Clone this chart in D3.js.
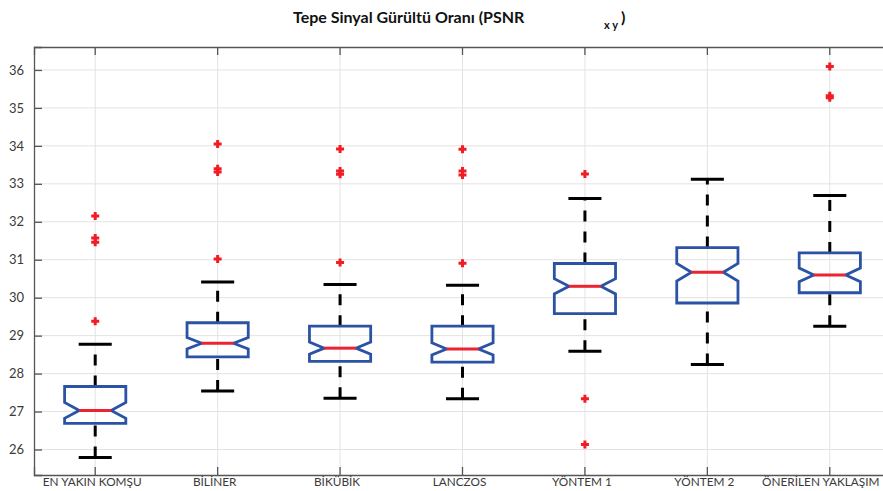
<!DOCTYPE html>
<html><head><meta charset="utf-8">
<script src="https://cdn.jsdelivr.net/npm/d3@7"></script>
<style>body{margin:0;background:#fff}svg{display:block}</style>
</head><body>
<script>
const categories = ["EN YAKIN KOMŞU","BİLİNER","BİKÜBİK","LANCZOS","YÖNTEM 1","YÖNTEM 2","ÖNERİLEN YAKLAŞIM"];
const lowerWhisker = [25.79, 27.54, 27.35, 27.34, 28.59, 28.24, 29.25];
const q1           = [26.69, 28.44, 28.32, 28.30, 29.58, 29.86, 30.13];
const median       = [27.03, 28.80, 28.67, 28.65, 30.30, 30.67, 30.60];
const q3           = [27.66, 29.34, 29.25, 29.25, 30.90, 31.32, 31.18];
const upperWhisker = [28.77, 30.41, 30.35, 30.33, 32.61, 33.12, 32.69];
const notchLo      = [26.82, 28.65, 28.51, 28.49, 30.10, 30.44, 30.42];
const notchHi      = [27.24, 28.95, 28.83, 28.81, 30.50, 30.90, 30.78];
const outliers = [
  [32.15, 31.57, 31.46, 29.38],
  [34.05, 33.40, 33.31, 31.02],
  [33.92, 33.34, 33.25, 30.93],
  [33.91, 33.34, 33.23, 30.91],
  [33.26, 27.34, 26.13],
  [],
  [36.09, 35.32, 35.27]
];
const yTicks = [26, 27, 28, 29, 30, 31, 32, 33, 34, 35, 36];
const titleMain = "Tepe Sinyal Gürültü Oranı (PSNR";
const titleSub = "x y";

(function () {
const W = 883, H = 491;
const mL = 34, mR = 891, mT = 47, mB = 475;
const FONT = "Lato, 'Open Sans', sans-serif";
const svg = d3.select("body").append("svg").attr("width", W).attr("height", H);

const x = d3.scaleBand().domain(categories).range([mL, mR]).padding(0);
const y = d3.scaleLinear().domain([25.328, 36.605]).range([mB, mT]);
const step = x.bandwidth();
const cx = c => x(c) + step / 2;

const g = svg.append("g");
g.selectAll("line.hg").data(yTicks).join("line")
  .attr("x1", mL).attr("x2", mR).attr("y1", d => y(d)).attr("y2", d => y(d))
  .attr("stroke", "#e3e3e3").attr("stroke-width", 1);
g.selectAll("line.vg").data(categories).join("line")
  .attr("x1", d => cx(d)).attr("x2", d => cx(d)).attr("y1", mT).attr("y2", mB)
  .attr("stroke", "#e3e3e3").attr("stroke-width", 1);

const yAxis = d3.axisLeft(y).tickValues(yTicks).tickSize(-8).tickPadding(10).tickFormat(d3.format("d"));
const ya = svg.append("g").attr("transform", `translate(${mL},0)`).call(yAxis);
const xAxis = d3.axisBottom(x).tickSize(-8).tickPadding(3);
const xa = svg.append("g").attr("transform", `translate(0,${mB})`).call(xAxis);
const xt = svg.append("g").attr("transform", `translate(0,${mT})`).call(d3.axisTop(x).tickSize(-8).tickFormat(""));
const yr = svg.append("g").attr("transform", `translate(${mR},0)`).call(d3.axisRight(y).tickValues(yTicks).tickSize(-8).tickFormat(""));
[ya, xa, xt, yr].forEach(a => {
  a.select(".domain").attr("stroke", "#555").attr("stroke-width", 1.3);
  a.selectAll(".tick line").attr("stroke", "#555").attr("stroke-width", 1.3);
  a.selectAll("text").attr("fill", "#3a3a3a").attr("font-family", FONT).attr("font-size", 13);
});
xa.selectAll("text").attr("font-size", 11.8).attr("x", (d, i) => i === categories.length - 1 ? -9 : -3);

const boxes = svg.append("g");
categories.forEach((c, i) => {
  const X = cx(c);
  const bw = step * 0.25, nw = step * 0.13, cw = step * 0.135;
  boxes.append("line").attr("x1", X).attr("x2", X).attr("y1", y(lowerWhisker[i])).attr("y2", y(q1[i]))
    .attr("stroke", "#000").attr("stroke-width", 3).attr("stroke-dasharray", "11,10");
  boxes.append("line").attr("x1", X).attr("x2", X).attr("y1", y(q3[i])).attr("y2", y(upperWhisker[i]))
    .attr("stroke", "#000").attr("stroke-width", 3).attr("stroke-dasharray", "11,10");
  [lowerWhisker[i], upperWhisker[i]].forEach(v => {
    boxes.append("line").attr("x1", X - cw).attr("x2", X + cw).attr("y1", y(v)).attr("y2", y(v))
      .attr("stroke", "#000").attr("stroke-width", 3);
  });
  const pts = [
    [X - bw, y(q1[i])], [X - bw, y(notchLo[i])], [X - nw, y(median[i])], [X - bw, y(notchHi[i])],
    [X - bw, y(q3[i])], [X + bw, y(q3[i])], [X + bw, y(notchHi[i])], [X + nw, y(median[i])],
    [X + bw, y(notchLo[i])], [X + bw, y(q1[i])]
  ];
  boxes.append("path").attr("d", d3.line()(pts) + "Z")
    .attr("fill", "none").attr("stroke", "#2b53a5").attr("stroke-width", 2.8).attr("stroke-linejoin", "miter");
  boxes.append("line").attr("x1", X - nw).attr("x2", X + nw).attr("y1", y(median[i])).attr("y2", y(median[i]))
    .attr("stroke", "#ec2330").attr("stroke-width", 3);
  outliers[i].forEach(v => {
    const py = y(v), s = 4;
    boxes.append("path").attr("d", `M${X - s},${py}H${X + s}M${X},${py - s}V${py + s}`)
      .attr("stroke", "#f21c24").attr("stroke-width", 3);
  });
});

svg.append("text").attr("x", 293).attr("y", 23)
  .attr("font-family", FONT).attr("font-weight", "bold").attr("font-size", 16).attr("fill", "#111")
  .text(titleMain);
svg.append("text").attr("x", 604).attr("y", 29).attr("font-family", FONT)
  .attr("font-weight", "bold").attr("font-size", 11).attr("fill", "#111").text(titleSub);
svg.append("text").attr("x", 621).attr("y", 23).attr("font-family", FONT)
  .attr("font-weight", "bold").attr("font-size", 16).attr("fill", "#111").text(")");
})();
</script>
</body></html>
